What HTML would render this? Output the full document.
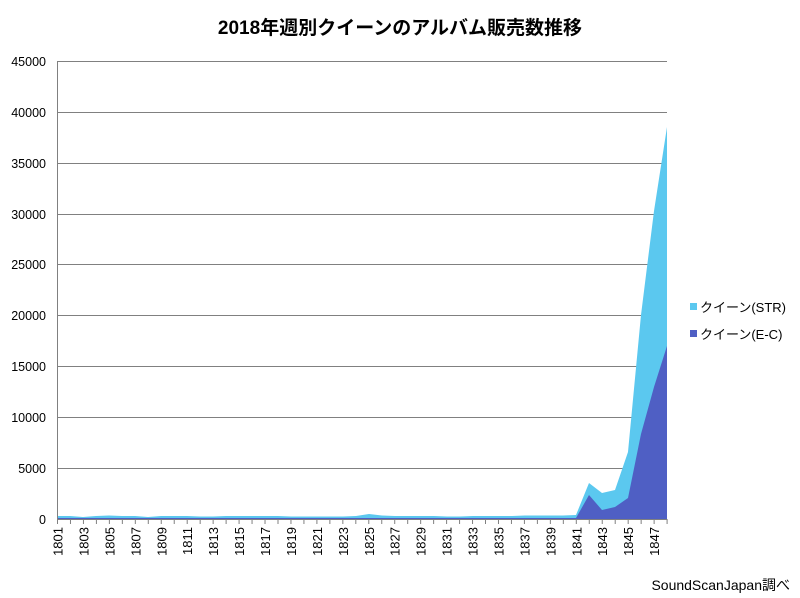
<!DOCTYPE html>
<html><head><meta charset="utf-8"><style>
body{margin:0;background:#fff;}
svg{display:block;font-family:"Liberation Sans","Noto Sans CJK JP",sans-serif;}
</style></head><body>
<svg width="800" height="598" viewBox="0 0 800 598" xmlns="http://www.w3.org/2000/svg">
<rect width="800" height="598" fill="#fff"/>
<text x="400" y="34" text-anchor="middle" font-size="19" font-weight="bold" fill="#000">2018年週別クイーンのアルバム販売数推移</text>
<g stroke="#808080" stroke-width="1">
<line x1="57.5" y1="61.5" x2="667" y2="61.5"/>
<line x1="57.5" y1="112.5" x2="667" y2="112.5"/>
<line x1="57.5" y1="163.5" x2="667" y2="163.5"/>
<line x1="57.5" y1="214.5" x2="667" y2="214.5"/>
<line x1="57.5" y1="264.5" x2="667" y2="264.5"/>
<line x1="57.5" y1="315.5" x2="667" y2="315.5"/>
<line x1="57.5" y1="366.5" x2="667" y2="366.5"/>
<line x1="57.5" y1="417.5" x2="667" y2="417.5"/>
<line x1="57.5" y1="468.5" x2="667" y2="468.5"/>
</g>
<g font-size="12.5" fill="#000" text-anchor="end">
<text x="46" y="66">45000</text><text x="46" y="117">40000</text><text x="46" y="168">35000</text>
<text x="46" y="219">30000</text><text x="46" y="269">25000</text><text x="46" y="320">20000</text>
<text x="46" y="371">15000</text><text x="46" y="422">10000</text><text x="46" y="473">5000</text>
<text x="46" y="524">0</text>
</g>
<polygon fill="#5bc8ef" points="57.5,519 57.5,516 70,516 83,517 96,516 109,515.5 122,516 135,516 148,517 161,516 174,516 187,516 200,516.5 213,516.5 226,516 239,516 252,516 265,516 278,516 291,516.5 304,516.5 317,516.5 330,516.5 343,516.5 356,516 369,514 382,515.5 395,516 408,516 421,516 434,516 447,516.5 460,516.5 473,516 486,516 499,516 512,516 525,515.5 538,515.5 551,515.5 563,515.5 576,515 589,483 602,493 615,490 628,452 641,315 654,211 667,127 667,519"/>
<polygon fill="#4f5fc4" points="57.5,519 57.5,518 576,518 589,495 602,510 615,507 628,498 641,434 654,387 667,346 667,519"/>
<line x1="57.5" y1="61" x2="57.5" y2="519" stroke="#808080"/>
<line x1="57.5" y1="519.5" x2="667" y2="519.5" stroke="#808080"/>
<g id="ticks" stroke="#808080"></g>
<g id="labels" font-size="13" fill="#000"></g>
<rect x="690" y="303" width="7" height="7" fill="#5bc8ef"/>
<text x="700" y="312" font-size="13" fill="#000">クイーン(STR)</text>
<rect x="690" y="330" width="7" height="7" fill="#4f5fc4"/>
<text x="700" y="339" font-size="13" fill="#000">クイーン(E-C)</text>
<text x="790" y="590" text-anchor="end" font-size="14" fill="#000">SoundScanJapan調べ</text>
<script>
var t=document.getElementById('ticks'),l=document.getElementById('labels'),ns='http://www.w3.org/2000/svg';
for(var i=0;i<48;i++){var x=57.5+12.97*i;
var ln=document.createElementNS(ns,'line');ln.setAttribute('x1',x);ln.setAttribute('x2',x);ln.setAttribute('y1',519);ln.setAttribute('y2',524);t.appendChild(ln);
if(i%2==0){var tx=document.createElementNS(ns,'text');tx.setAttribute('transform','translate('+(x+5)+',527) rotate(-90)');tx.setAttribute('text-anchor','end');tx.textContent=1801+i;l.appendChild(tx);}}
</script>
</svg>
</body></html>
